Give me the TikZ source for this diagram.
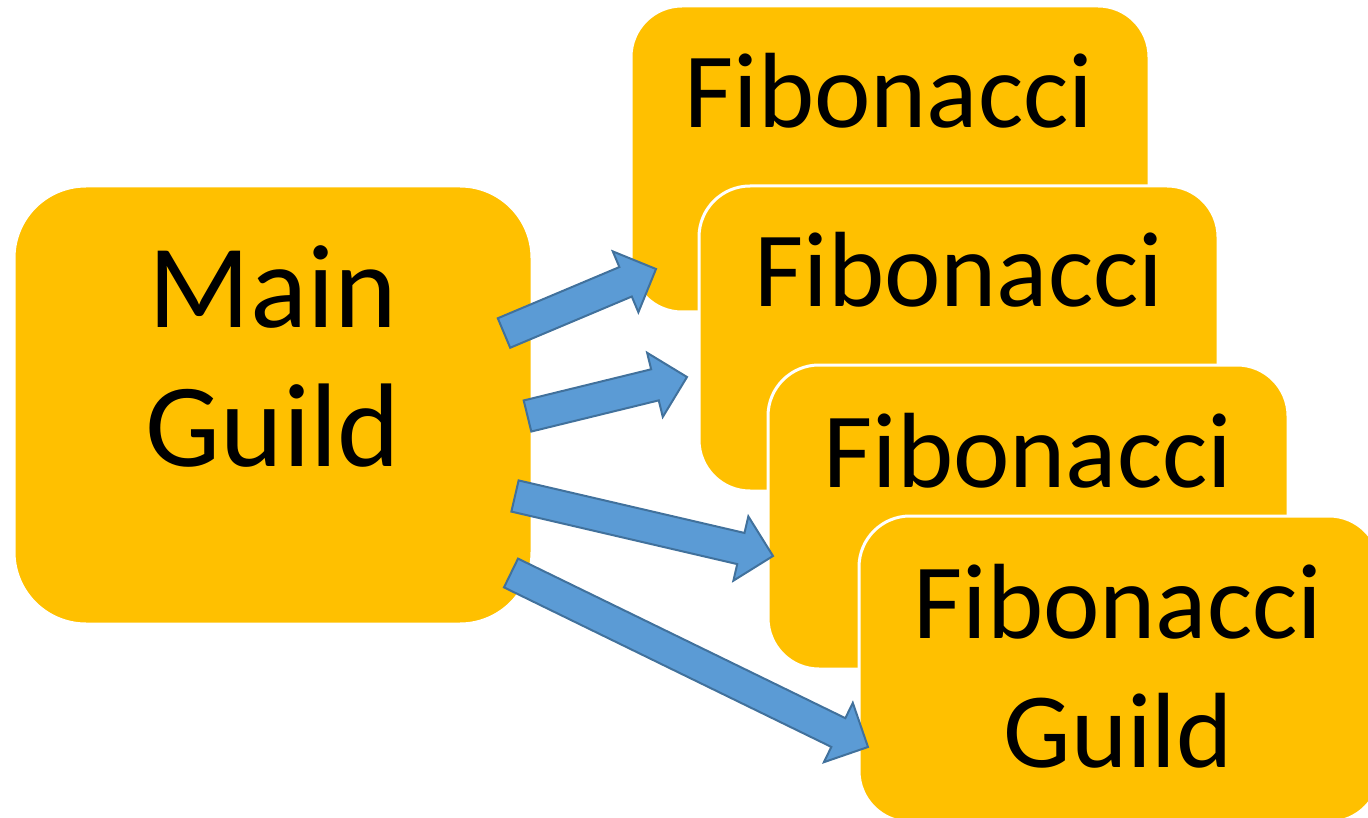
\documentclass[tikz,border=0pt]{standalone}
\usepackage{fontspec}
\setmainfont{Carlito}
\usetikzlibrary{calc}
\definecolor{gold}{HTML}{FFC000}
\definecolor{afill}{HTML}{5B9BD5}
\definecolor{aline}{HTML}{41719C}
\tikzset{
  guildbox/.style={draw=white, line width=3pt, fill=gold, rounded corners=51pt,
    inner sep=0pt, outer sep=0pt},
  fibtext/.style={anchor=base, inner sep=0pt, font=\fontsize{107}{128}\selectfont},
  maintext/.style={anchor=base, inner sep=0pt, font=\fontsize{119}{143}\selectfont},
  barrow/.style={fill=afill, draw=aline, line width=2pt, line join=miter}
}
\newcommand\blockarrow[2]{%
  \coordinate (hb) at ($(#2)!33pt!(#1)$);
  \draw[barrow] ($(#1)!16pt!90:(#2)$) -- ($(hb)!16pt!90:(#2)$) -- ($(hb)!33pt!90:(#2)$)
    -- (#2) -- ($(hb)!33pt!-90:(#2)$) -- ($(hb)!16pt!-90:(#2)$) -- ($(#1)!16pt!-90:(#2)$) -- cycle;}
\begin{document}
\begin{tikzpicture}[x=1pt, y=-1pt]
\useasboundingbox (0,0) rectangle (1368,818);
\clip (0,0) rectangle (1368,818);
% boxes
\node[guildbox, minimum width=518pt, minimum height=306pt] (fib1) at (890,159) {};
\node[guildbox, minimum width=519pt, minimum height=305pt] (fib2) at (958.5,338.5) {};
\node[guildbox, minimum width=520pt, minimum height=304pt] (fib3) at (1028,517) {};
\node[guildbox, minimum width=521pt, minimum height=306pt] (fib4) at (1119.5,669) {};
\node[guildbox, rounded corners=72pt, minimum width=518pt, minimum height=438pt] (main) at (273,405) {};
% texts
\node[fibtext] (t1) at (889,128) {Fibonacci};
\node[fibtext] (t2) at (959,307) {Fibonacci};
\node[fibtext] (t3) at (1028,487) {Fibonacci};
\node[fibtext] (t4a) at (1118,638) {Fibonacci};
\node[fibtext] (t4b) at (1118,767) {Guild};
\node[maintext] (m1) at (273,327) {Main};
\node[maintext] (m2) at (273,466) {Guild};
% arrow ends
\coordinate (a1s) at (504,333);  \coordinate (a1e) at (656,269);
\coordinate (a2s) at (527.5,416); \coordinate (a2e) at (687,377);
\coordinate (a3s) at (515,496);  \coordinate (a3e) at (773,556);
\coordinate (a4s) at (511,573);  \coordinate (a4e) at (868,747);
\blockarrow{a1s}{a1e}
\blockarrow{a2s}{a2e}
\blockarrow{a3s}{a3e}
\blockarrow{a4s}{a4e}
\end{tikzpicture}
\end{document}
